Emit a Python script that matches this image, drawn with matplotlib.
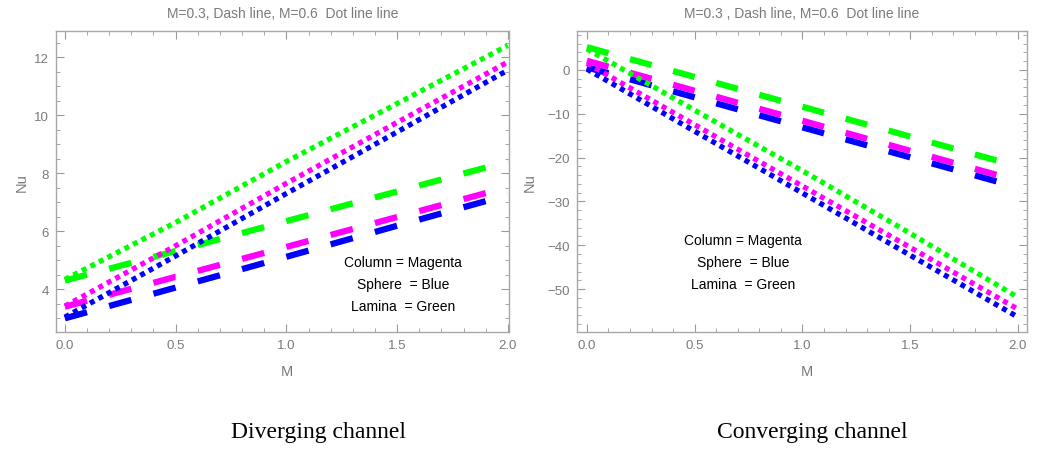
import numpy as np
import matplotlib
matplotlib.use("Agg")
import matplotlib.pyplot as plt

plt.rcParams['font.family'] = ['Liberation Sans', 'DejaVu Sans']
plt.rcParams['lines.scale_dashes'] = False

M = [0.0, 0.5, 1.0, 1.5, 2.0]

# diverging channel, M=0.3 (dashed) and M=0.6 (dotted)
div_col_dash = [3.40, 4.43, 5.46, 6.49, 7.52]
div_sph_dash = [3.00, 4.06, 5.12, 6.19, 7.25]
div_lam_dash = [4.30, 5.32, 6.35, 7.37, 8.40]
div_col_dot = [3.42, 5.50, 7.65, 9.75, 11.83]
div_sph_dot = [3.04, 5.15, 7.30, 9.42, 11.55]
div_lam_dot = [4.34, 6.30, 8.40, 10.40, 12.40]

# converging channel
con_col_dash = [2.1, -4.75, -11.6, -18.45, -25.3]
con_sph_dash = [0.6, -6.25, -13.1, -19.95, -26.8]
con_lam_dash = [5.2, -1.6, -8.4, -15.2, -22.0]
con_col_dot = [1.5, -12.5, -26.5, -40.5, -54.6]
con_sph_dot = [0.2, -14.0, -28.1, -42.3, -56.4]
con_lam_dot = [4.8, -9.2, -23.0, -37.3, -51.9]

legend_lines = ["Column = Magenta", "Sphere  = Blue", "Lamina  = Green"]

MAG = '#ff00ff'
BLU = '#0000ff'
GRN = '#00ff00'
GRAY = '#7a7a7a'
DPI = 100

fig = plt.figure(figsize=(10.37, 4.52), dpi=DPI)
ax1 = fig.add_axes([0.054, 0.2633, 0.4368, 0.666])
ax2 = fig.add_axes([0.5564, 0.2633, 0.434, 0.666])


def dash_len(ax, y):
	# length of 0.1 in M along the curve, in points
	p = ax.transData.transform([(0.0, y[0]), (0.1, np.interp(0.1, M, y))])
	return np.hypot(*(p[1] - p[0])) * 72.0 / DPI


def setup(ax, xlim, ylim, ymaj, ymin):
	ax.set_xlim(*xlim)
	ax.set_ylim(*ylim)
	ax.set_xticks(np.arange(0, 2.01, 0.5))
	ax.set_xticks(np.arange(0, 2.01, 0.1), minor=True)
	ax.set_yticks(np.arange(ymaj[0], ymaj[1], ymaj[2]))
	ax.set_yticks(np.arange(ymin[0], ymin[1], ymin[2]), minor=True)
	ax.tick_params(which='both', direction='in', top=True, right=True,
				   color='#9a9a9a', labelcolor=GRAY, labelsize=9.5, pad=5)
	ax.tick_params(which='major', length=5.5, width=0.8)
	ax.tick_params(which='minor', length=3, width=0.6)
	for s in ax.spines.values():
		s.set_color('#a8a8a8')
		s.set_linewidth(1.0)


def draw(ax, dash_sets, dot_sets):
	for y, c in dash_sets:
		L = dash_len(ax, y)
		ln, = ax.plot(M, y, color=c, lw=4.5)
		ln.set_dashes([L, L])
		ln.set_dash_capstyle('butt')
	for y, c in dot_sets:
		ln, = ax.plot(M, y, color=c, lw=3.8)
		ln.set_dashes([3.6, 3.3])
		ln.set_dash_capstyle('butt')


setup(ax1, (-0.04, 2.005), (2.53, 12.9), (4, 12.1, 2), (3, 12.6, 0.5))
setup(ax2, (-0.046, 2.042), (-59.8, 8.9), (-50, 0.1, 10), (-58, 8.1, 2))
ax1.set_xticklabels(['0.0', '0.5', '1.0', '1.5', '2.0'])
ax2.set_xticklabels(['0.0', '0.5', '1.0', '1.5', '2.0'])
ax2.set_yticklabels(['\u221250', '\u221240', '\u221230', '\u221220', '\u221210', '0'])

draw(ax1,
	 [(div_col_dash, MAG), (div_sph_dash, BLU), (div_lam_dash, GRN)],
	 [(div_col_dot, MAG), (div_sph_dot, BLU), (div_lam_dot, GRN)])
draw(ax2,
	 [(con_col_dash, MAG), (con_sph_dash, BLU), (con_lam_dash, GRN)],
	 [(con_col_dot, MAG), (con_sph_dot, BLU), (con_lam_dot, GRN)])

titles = ["M=0.3, Dash line, M=0.6  Dot line line",
		  "M=0.3 , Dash line, M=0.6  Dot line line"]
for ax, t in zip([ax1, ax2], titles):
	ax.text(0.5, 1.06, t, transform=ax.transAxes, ha='center', va='center',
			color=GRAY, fontsize=10)
	ax.text(0.51, -0.13, "M", transform=ax.transAxes, ha='center', va='center',
			color=GRAY, fontsize=10.5)

ax1.text(-0.075, 0.5, "Nu", transform=ax1.transAxes, rotation=90,
		 ha='center', va='center', color=GRAY, fontsize=10.5)
ax2.text(-0.104, 0.5, "Nu", transform=ax2.transAxes, rotation=90,
		 ha='center', va='center', color=GRAY, fontsize=10.5)

for i, s in enumerate(legend_lines):
	ax1.text(0.766, 0.2326 - i * 0.073, s, transform=ax1.transAxes,
			 ha='center', va='center', fontsize=10)
	ax2.text(0.369, 0.3056 - i * 0.073, s, transform=ax2.transAxes,
			 ha='center', va='center', fontsize=10)

fig.text(0.307, 0.044, "Diverging channel", ha='center', va='center',
		 family='Liberation Serif', fontsize=17)
fig.text(0.783, 0.044, "Converging channel", ha='center', va='center',
		 family='Liberation Serif', fontsize=17)

fig.savefig("out.png", dpi=DPI)
